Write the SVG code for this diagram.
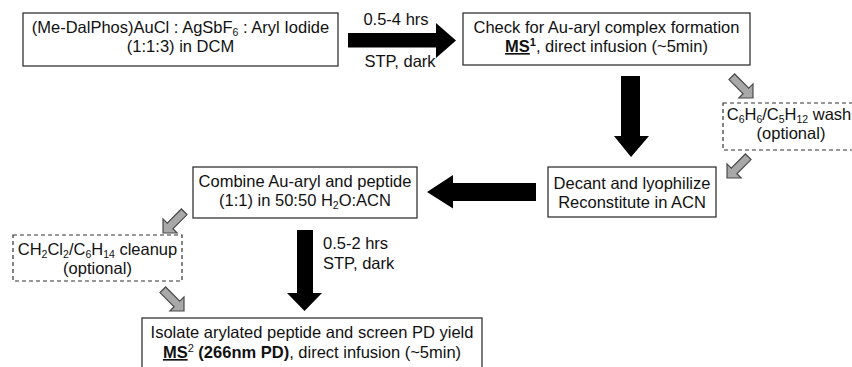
<svg xmlns="http://www.w3.org/2000/svg" width="852" height="367" viewBox="0 0 852 367">
  <style>
    text { font-family: "Liberation Sans", Arial, sans-serif; font-size: 16.5px; fill: #111; text-anchor: middle; }
    .box { fill: #fff; stroke: #333; stroke-width: 1.3; }
    .dash { fill: #fff; stroke: #333; stroke-width: 1.2; stroke-dasharray: 4 3; }
    .big { fill: #000; }
    .small { fill: #a8a8a8; stroke: #4a4a4a; stroke-width: 1.2; stroke-linejoin: miter; }
    .b { font-weight: bold; }
    .u { text-decoration: underline; }
    .sub { font-size: 10.5px; baseline-shift: -3px; }
    .sup { font-size: 11px; baseline-shift: 6px; }
  </style>
  <defs>
    <!-- small gray block arrow, tip at origin, pointing along +x -->
    <path id="grayArrow" d="M0,0 L-10,-10 L-10,-4 L-30,-4 L-30,4 L-10,4 L-10,10 Z"/>
  </defs>

  <g id="connectors">
    <!-- reaction: 0.5-4 hrs -->
    <path class="big" d="M348,33 L436,33 L436,23 L456,40.5 L436,58 L436,47.5 L348,47.5 Z"/>
    <text x="396" y="25">0.5-4 hrs</text>
    <text x="400" y="67">STP, dark</text>
    <!-- check -> decant -->
    <path class="big" d="M621,76 L640,76 L640,136 L649,136 L631,157 L614,136 L621,136 Z"/>
    <!-- decant -> combine -->
    <path class="big" d="M536,183 L453,183 L453,175 L427,192 L453,208.5 L453,201 L536,201 Z"/>
    <!-- reaction: 0.5-2 hrs -->
    <path class="big" d="M297,230 L313,230 L313,293 L322,293 L304.5,311 L287,293 L297,293 Z"/>
    <text x="323" y="249" style="text-anchor:start">0.5-2 hrs</text>
    <text x="323" y="269" style="text-anchor:start">STP, dark</text>
    <!-- optional wash / cleanup detours -->
    <use href="#grayArrow" class="small" transform="translate(753,98) rotate(45)"/>
    <use href="#grayArrow" class="small" transform="translate(727,178) rotate(135)"/>
    <use href="#grayArrow" class="small" transform="translate(163,233) rotate(135)"/>
    <use href="#grayArrow" class="small" transform="translate(184,311) rotate(45)"/>
  </g>

  <g id="mix">
    <rect class="box" x="23" y="13" width="315" height="53"/>
    <text x="180.5" y="33">(Me-DalPhos)AuCl : AgSbF<tspan class="sub">6</tspan> : Aryl Iodide</text>
    <text x="180.5" y="52">(1:1:3) in DCM</text>
  </g>

  <g id="check">
    <rect class="box" x="463" y="13" width="287" height="52"/>
    <text x="606.5" y="33">Check for Au-aryl complex formation</text>
    <text x="606.5" y="52"><tspan class="b u">MS</tspan><tspan class="b sup">1</tspan>, direct infusion (~5min)</text>
  </g>

  <g id="wash">
    <rect class="dash" x="723" y="103" width="140" height="47"/>
    <text x="789" y="120">C<tspan class="sub">6</tspan>H<tspan class="sub">6</tspan>/C<tspan class="sub">5</tspan>H<tspan class="sub">12</tspan> wash</text>
    <text x="791" y="139">(optional)</text>
  </g>

  <g id="decant">
    <rect class="box" x="548" y="167" width="168" height="50"/>
    <text x="632" y="189">Decant and lyophilize</text>
    <text x="632" y="208">Reconstitute in ACN</text>
  </g>

  <g id="combine">
    <rect class="box" x="193" y="167" width="224" height="51"/>
    <text x="305" y="187">Combine Au-aryl and peptide</text>
    <text x="305" y="206">(1:1) in 50:50 H<tspan class="sub">2</tspan>O:ACN</text>
  </g>

  <g id="cleanup">
    <rect class="dash" x="13" y="235" width="169" height="46"/>
    <text x="97.5" y="255">CH<tspan class="sub">2</tspan>Cl<tspan class="sub">2</tspan>/C<tspan class="sub">6</tspan>H<tspan class="sub">14</tspan> cleanup</text>
    <text x="97.5" y="274">(optional)</text>
  </g>

  <g id="isolate">
    <rect class="box" x="142" y="318" width="340" height="60"/>
    <text x="312" y="338">Isolate arylated peptide and screen PD yield</text>
    <text x="312" y="358"><tspan class="b u">MS</tspan><tspan class="sup">2</tspan><tspan class="b"> (266nm PD)</tspan>, direct infusion (~5min)</text>
  </g>
</svg>
